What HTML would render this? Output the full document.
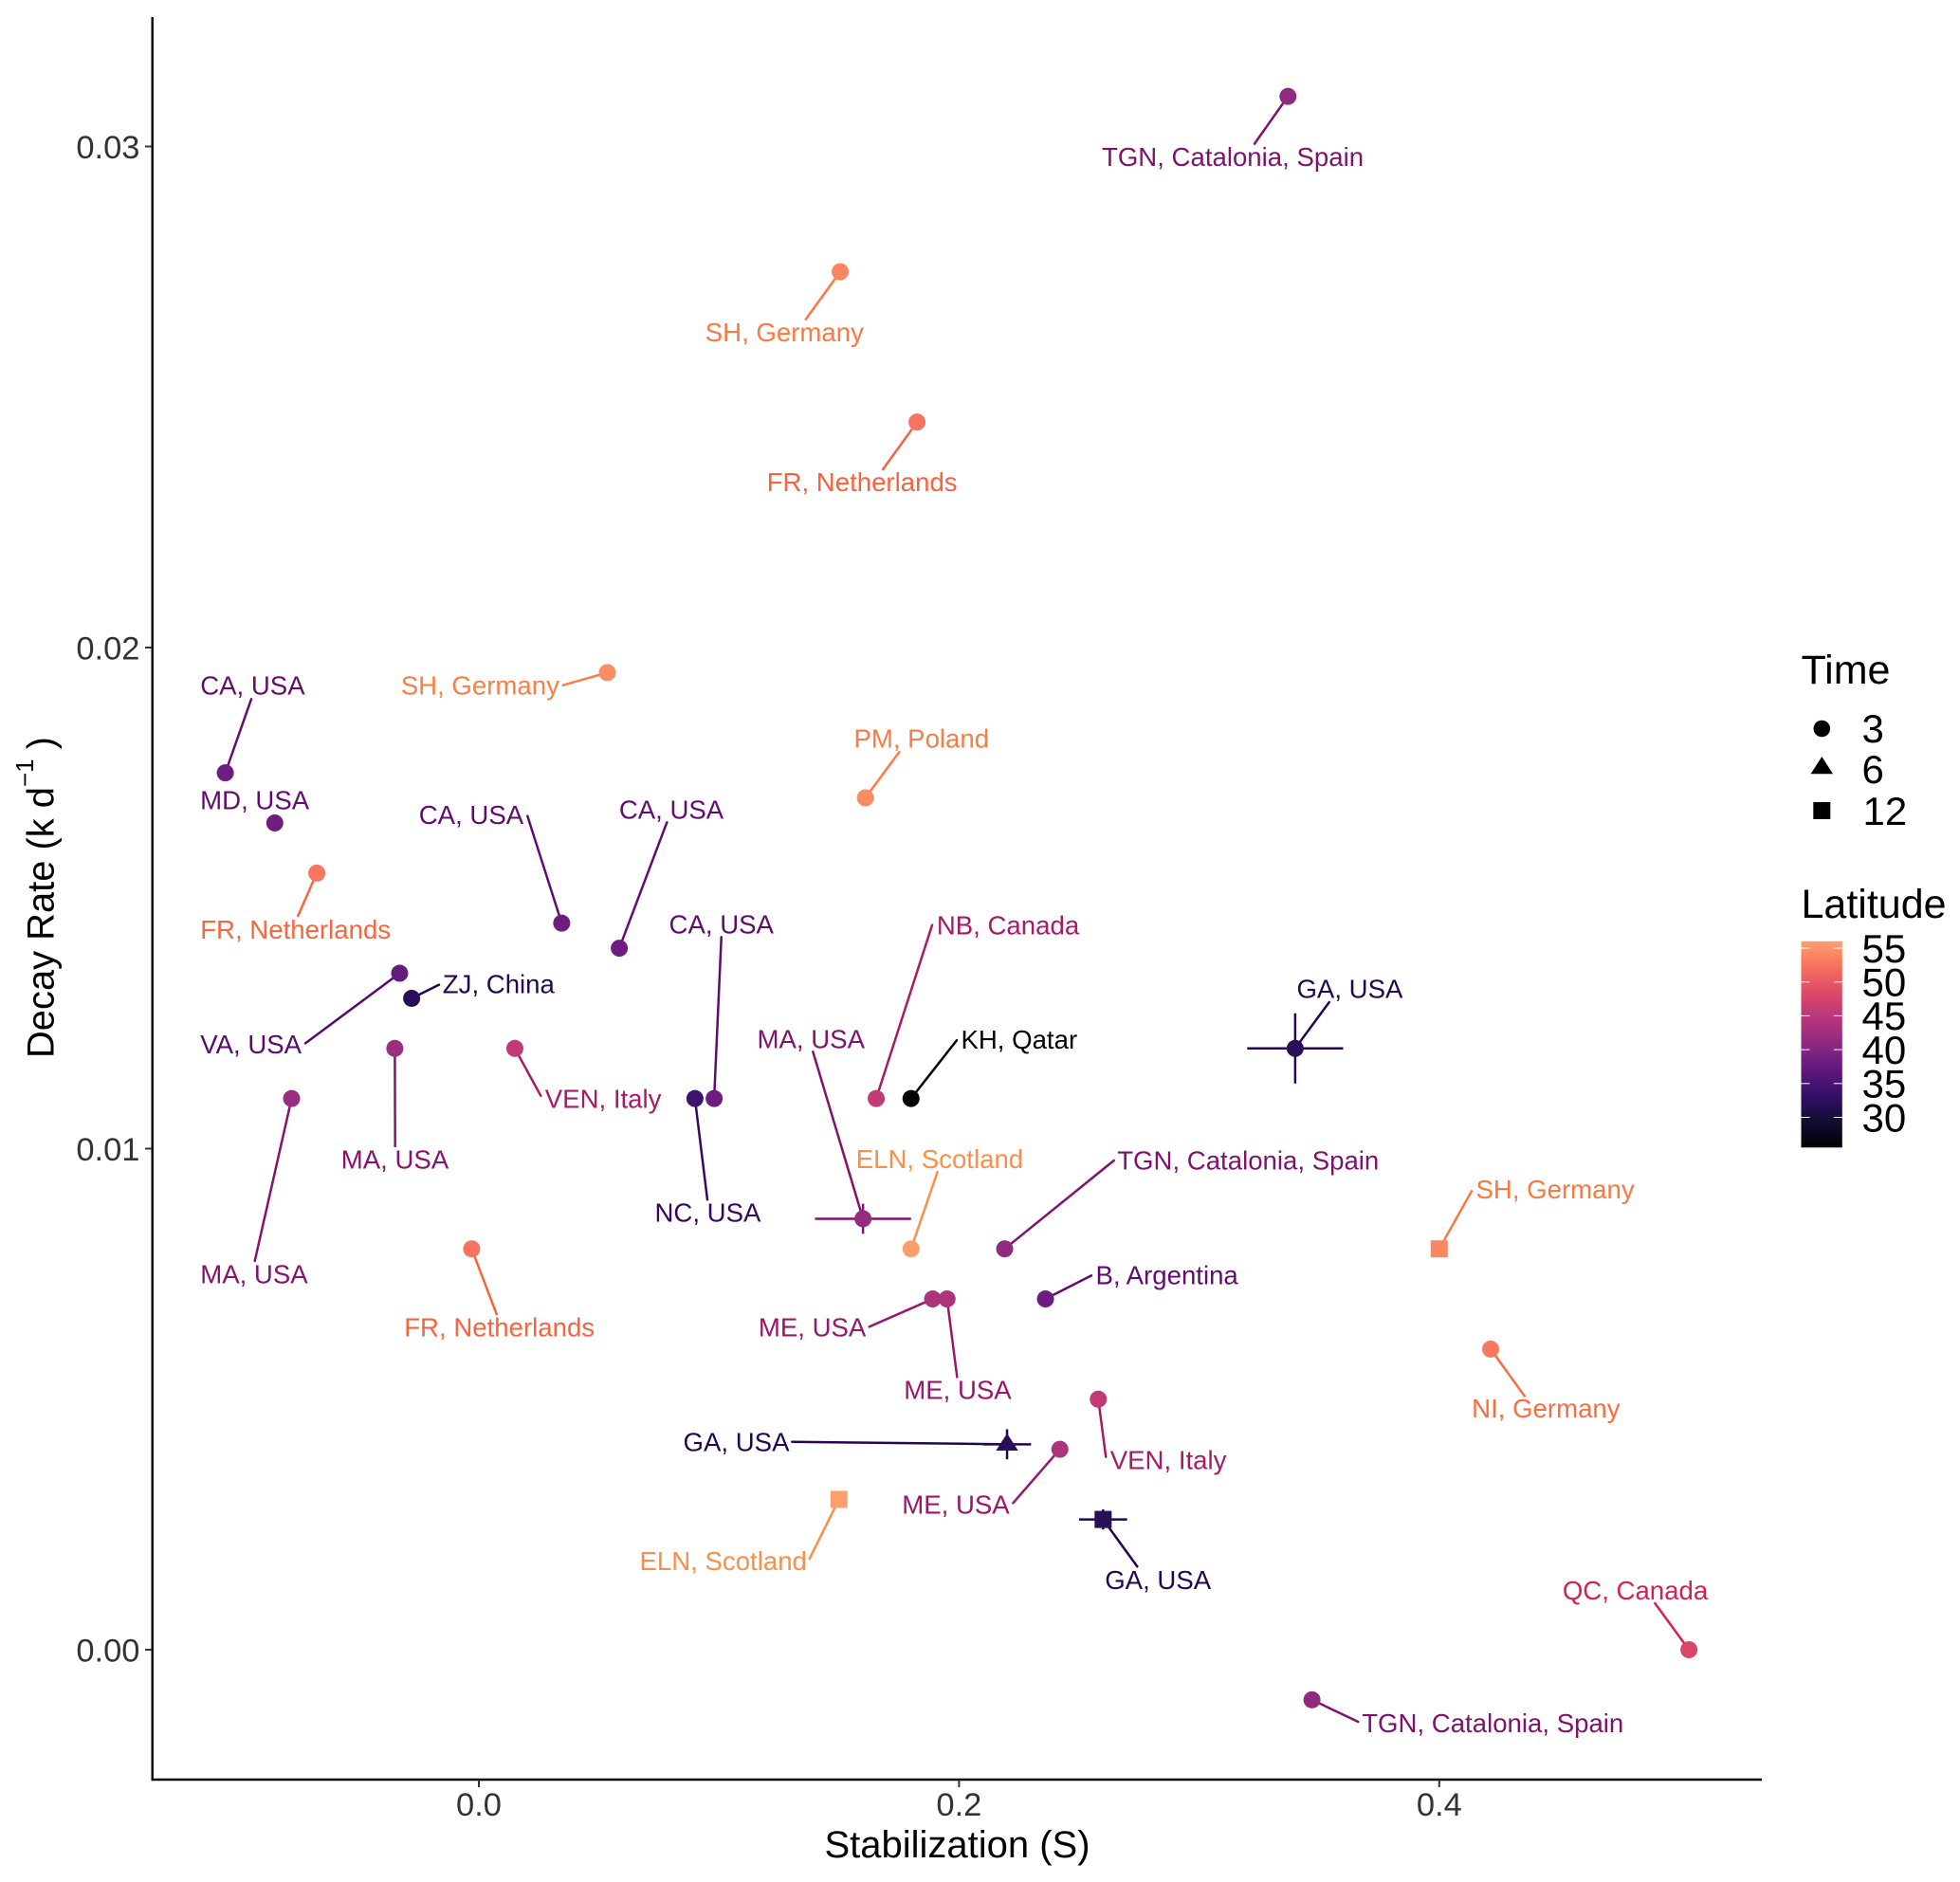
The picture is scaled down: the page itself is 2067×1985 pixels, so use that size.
<!DOCTYPE html>
<html lang="en">
<head>
<meta charset="utf-8">
<title>Decay Rate vs Stabilization</title>
<style>
html,body{margin:0;padding:0;background:#fff;}
svg{display:block;font-family:"Liberation Sans",Arial,sans-serif;}
</style>
</head>
<body>
<svg id="chart" xmlns="http://www.w3.org/2000/svg" width="2067" height="1985" viewBox="0 0 2067 1985">
  <defs>
    <linearGradient id="latGrad" x1="0" y1="1" x2="0" y2="0"></linearGradient>
  </defs>
  <rect x="0" y="0" width="2067" height="1985" fill="#ffffff"/>
  <g id="axes"></g>
  <text x="1009.5" y="1959" font-size="40" text-anchor="middle" fill="#000">Stabilization (S)</text>
  <text transform="translate(56.7,1116) rotate(-90)" font-size="39.9" fill="#000">Decay Rate (k d<tspan font-size="26" dy="-21.7">−1</tspan><tspan dy="21.7" dx="10">)</tspan></text>
  <g id="leaders"></g>
  <g id="errors"></g>
  <g id="points"></g>
  <g id="labels"></g>
  <g id="legend-time">
    <text x="1899.5" y="721" font-size="43" fill="#000">Time</text>
    <circle cx="1921.3" cy="768.5" r="8.8" fill="#000"/>
    <text x="1963.5" y="783" font-size="42" fill="#000">3</text>
    <polygon points="1921.3,798 1933,816.3 1909.6,816.3" fill="#000"/>
    <text x="1963.5" y="826" font-size="42" fill="#000">6</text>
    <rect x="1912.3" y="846" width="18" height="18" fill="#000"/>
    <text x="1964.5" y="870" font-size="42" fill="#000">12</text>
  </g>
  <g id="legend-lat">
    <text x="1899.5" y="968" font-size="43" fill="#000">Latitude</text>
    <rect x="1899.5" y="992.8" width="43.3" height="217.5" fill="url(#latGrad)"/>
  </g>
</svg>
<script>
// ---- chart data ----
const sites = ["TGN, Catalonia, Spain","SH, Germany","FR, Netherlands","SH, Germany","CA, USA","PM, Poland","MD, USA","FR, Netherlands","CA, USA","CA, USA","VA, USA","ZJ, China","MA, USA","VEN, Italy","MA, USA","NC, USA","CA, USA","NB, Canada","KH, Qatar","GA, USA","MA, USA","ELN, Scotland","TGN, Catalonia, Spain","B, Argentina","ME, USA","ME, USA","FR, Netherlands","SH, Germany","NI, Germany","GA, USA","VEN, Italy","ME, USA","ELN, Scotland","GA, USA","QC, Canada","TGN, Catalonia, Spain"];
const stabilization = [0.337,0.1505,0.1825,0.0535,-0.1056,0.161,-0.085,-0.0675,0.0345,0.0585,-0.033,-0.028,-0.035,0.015,-0.078,0.09,0.098,0.1655,0.18,0.34,0.16,0.18,0.219,0.236,0.189,0.195,-0.003,0.4,0.4214,0.22,0.258,0.242,0.15,0.26,0.504,0.347];
const decayRate = [0.031,0.0275,0.0245,0.0195,0.0175,0.017,0.0165,0.0155,0.0145,0.014,0.0135,0.013,0.012,0.012,0.011,0.011,0.011,0.011,0.011,0.012,0.0086,0.008,0.008,0.007,0.007,0.007,0.008,0.008,0.006,0.0041,0.005,0.004,0.003,0.0026,0,-0.001];
const latitude = [41.1,54,52.5,54.5,38.2,54.3,38.2,52.7,38,38.2,37.2,31.8,42,45.4,41.8,34,38,45.5,25.3,31.8,41.5,55.9,41.1,38,43.7,43.7,52.5,54,53,31.8,45.4,43.7,55.9,31.8,47.8,41.1];
const timeMonths = [3,3,3,3,3,3,3,3,3,3,3,3,3,3,3,3,3,3,3,3,3,3,3,3,3,3,3,12,3,6,3,3,12,12,3,3];
const errorS = [0,0,0,0,0,0,0,0,0,0,0,0,0,0,0,0,0,0,0,0.02,0.02,0,0,0,0,0,0,0,0,0.01,0,0,0,0.01,0,0];
const errorK = [0,0,0,0,0,0,0,0,0,0,0,0,0,0,0,0,0,0,0,0.0007,0.0003,0,0,0,0,0,0,0,0,0.0003,0,0,0,0.0002,0,0];
const xTicks = [0,0.2,0.4];
const xTickLabels = ["0.0","0.2","0.4"];
const yTicks = [0,0.01,0.02,0.03];
const yTickLabels = ["0.00","0.01","0.02","0.03"];
const latTicks = [30,35,40,45,50,55];
const latDomain = [25.3,56];

// ---- scales ----
const NS = "http://www.w3.org/2000/svg";
function xScale(v){ return 505 + 2532 * v; }
function yScale(v){ return 1740 - 52850 * v; }
function latScale(v){ return 1178.5 - (v - 30) * 7.14; }

const magmaStops = [[0,0,4],[18,13,50],[51,16,103],[95,24,127],[140,41,129],[182,54,121],[222,73,104],[247,111,92],[254,159,109]];
function magma(t){
  const p = Math.max(0, Math.min(0.8, t)) * 10;
  const i = Math.min(7, Math.floor(p));
  const f = p - i;
  return magmaStops[i].map((c, k) => c + (magmaStops[i + 1][k] - c) * f);
}
function latRgb(lat){
  return magma((lat - latDomain[0]) / (latDomain[1] - latDomain[0]) * 0.8);
}
function css(rgb){
  return "rgb(" + rgb.map(c => Math.round(Math.max(0, c))).join(",") + ")";
}
function inkColor(lat){
  const c = latRgb(lat);
  const r = c[0] >= 200 ? c[0] : c[0] * 0.88;
  const g = Math.min(0.9 * c[1], 0.42 * c[1] + 1.4 * Math.max(0, c[1] - 80));
  const bFactor = c[0] >= 240 ? 0.65 : c[0] >= 200 ? 0.76 : c[0] < 60 ? 0.95 : 0.87;
  return css([r, g, c[2] * bFactor]);
}
function make(tag, attrs, parent){
  const el = document.createElementNS(NS, tag);
  for (const k in attrs) el.setAttribute(k, attrs[k]);
  parent.appendChild(el);
  return el;
}

function drawAxes(){
  const g = document.getElementById("axes");
  const yLine = make("line", {x1:160.7, y1:18, x2:160.7, y2:1878, stroke:"#000", "stroke-width":2.4}, g);
  
  
  const xLine = make("line", {x1:159.5, y1:1877, x2:1858, y2:1877, stroke:"#000", "stroke-width":2.4}, g);
  
  
  xTicks.forEach((v, i) => {
    const px = xScale(v);
    const tick = make("line", {x1:px, y1:1877, x2:px, y2:1885, stroke:"#333", "stroke-width":2}, g);
    
    
    const label = make("text", {x:px, y:1915, "font-size":34.5, "text-anchor":"middle", fill:"#333"}, g);
    
    
    label.textContent = xTickLabels[i];
  });
  yTicks.forEach((v, i) => {
    const py = yScale(v);
    const tick = make("line", {x1:153, y1:py, x2:160, y2:py, stroke:"#333", "stroke-width":2}, g);
    
    
    const label = make("text", {x:147.5, y:py + 12.4, "font-size":34.5, "text-anchor":"end", fill:"#333"}, g);
    
    
    label.textContent = yTickLabels[i];
  });
}

function drawLegend(){
  const grad = document.getElementById("latGrad");
  for (let i = 0; i <= 40; i++) {
    const f = i / 40;
    make("stop", {offset:f, "stop-color":css(magma(f * 0.8))}, grad);
  }
  const g = document.getElementById("legend-lat");
  latTicks.forEach(v => {
    const py = latScale(v);
    [[1899.5,1908.5],[1933.8,1942.8]].forEach(pair => {
      const t = make("line", {x1:pair[0], y1:py, x2:pair[1], y2:py, stroke:"#fff", "stroke-width":1}, g);
      
      
    });
    const label = make("text", {x:1963.5, y:py + 14.8, "font-size":42, fill:"#000"}, g);
    
    
    label.textContent = String(v);
  });
}

function drawMarks(){
  // Repelled label placement relative to each mark: [label dx, baseline dy, leader dx, leader dy]
  const placement = [
    [-195.8,73.3,-35.3,50],[-141.8,73.4,-36.3,50.1],[-157.9,72.8,-35.9,49.8],[-217.2,23.3,-46.8,13.3],
    [-25.9,-82.4,27.4,-77.8],[-11.7,-52.9,35.6,-48.3],[-78.1,-14.3,null,null],[-122.4,69.2,-19.8,45.2],
    [-150.1,-104.7,-36.1,-113],[0.2,-136.8,50.2,-132.8],[-209.7,84.5,-99.4,73.8],[33.2,-5.7,28.9,-14.3],
    [-56.1,126.9,0.3,103.2],[32.3,62.5,27.3,49.9],[-95.8,194.6,-38.8,171.3],[-41.9,130,13.1,106.6],
    [-47.1,-174.4,7.6,-170.4],[64.3,-173.4,59,-183],[53.2,-52.7,48.2,-61.4],[2.1,-53.1,35.9,-48.8],
    [-111.1,-180.2,-52.8,-176.2],[-57.5,-85.2,27.9,-81.2],[119.2,-83.5,115.2,-93.2],[53.4,-15.7,48.4,-24.7],
    [-183.2,39.3,-66.8,29.3],[-45,105.3,10.6,82.3],[-70.7,92.5,26.3,68.8],[39.2,-53.2,34.2,-60.9],
    [-19.3,72.1,35.7,49.4],[-341,7,-226.7,-2.6],[13,73.5,8,60.9],[-166,68.1,-49.4,56.7],
    [-209.8,74.3,-31.1,62.6],[2.4,73.4,36,49.7],[-132.8,-53.2,-35.8,-49],[53.1,34.1,48.7,23.1]
  ];
  const leaders = document.getElementById("leaders");
  const errors = document.getElementById("errors");
  const points = document.getElementById("points");
  const labels = document.getElementById("labels");
  sites.forEach((site, i) => {
    const px = xScale(stabilization[i]);
    const py = yScale(decayRate[i]);
    const ink = inkColor(latitude[i]);
    const fill = css(latRgb(latitude[i]));
    const place = placement[i];
    if (place[2] !== null) {
      const seg = make("line", {x1:px, y1:py, x2:px + place[2], y2:py + place[3], stroke:ink, "stroke-width":2.5, "stroke-linecap":"round"}, leaders);
      
      
    }
    if (errorS[i] > 0) {
      const h = make("line", {x1:xScale(stabilization[i] - errorS[i]), y1:py, x2:xScale(stabilization[i] + errorS[i]), y2:py, stroke:ink, "stroke-width":2.5}, errors);
      
      
    }
    if (errorK[i] > 0) {
      const v = make("line", {x1:px, y1:yScale(decayRate[i] - errorK[i]), x2:px, y2:yScale(decayRate[i] + errorK[i]), stroke:ink, "stroke-width":2.5}, errors);
      
      
    }
    let mark;
    if (timeMonths[i] === 12) {
      mark = make("rect", {x:px - 9, y:py - 9, width:18, height:18, fill:fill}, points);
    } else if (timeMonths[i] === 6) {
      mark = make("polygon", {points:px + "," + (py - 11.6) + " " + (px + 11.7) + "," + (py + 6.7) + " " + (px - 11.7) + "," + (py + 6.7), fill:fill}, points);
    } else {
      mark = make("circle", {cx:px, cy:py, r:9, fill:fill}, points);
    }
    
    
    const label = make("text", {x:px + place[0] - 0.5, y:py + place[1], "font-size":27.6, fill:ink}, labels);
    
    
    label.textContent = site;
  });
}

drawAxes();
drawLegend();
drawMarks();
</script>
</body>
</html>
